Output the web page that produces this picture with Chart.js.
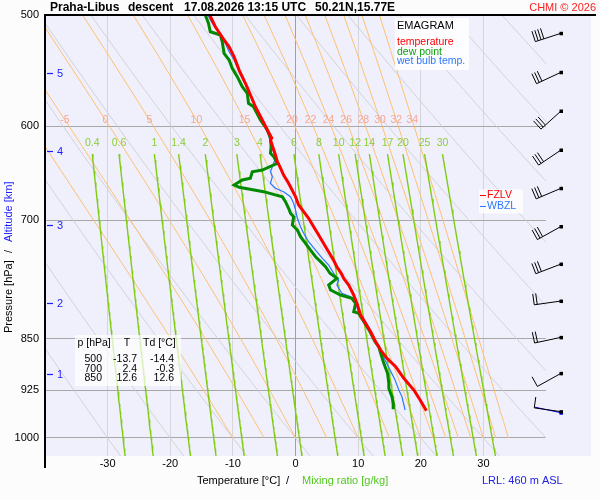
<!DOCTYPE html>
<html><head><meta charset="utf-8">
<script src="https://cdn.jsdelivr.net/npm/chart.js@4.4.1/dist/chart.umd.min.js"></script>
<style>html,body{margin:0;padding:0;background:#fcfcfc;}canvas{display:block;}</style>
</head><body>
<canvas id="c" width="600" height="500"></canvas>
<script>
// ---------- axes / reference lines ----------
const yTicks = [500, 600, 700, 850, 925, 1000];
const xTicks = [-30, -20, -10, 0, 10, 20, 30];
const dryAdiabatT1000 = [-30, -20, -10, 0, 10, 20, 30, 40, 50, 60, 70, 80, 90, 100, 110];
const moistThetaW = [-10, -5, 0, 5, 10, 15, 20, 22, 24, 26, 28, 30, 32, 34];
const moistLabels = [-5, 0, 5, 10, 15, 20, 22, 24, 26, 28, 30, 32, 34];
const mixingRatios = [0.4, 0.6, 1, 1.4, 2, 3, 4, 6, 8, 10, 12, 14, 17, 20, 25, 30];

// ---------- sounding profiles ----------
const tempP = [500, 509.7, 520.9, 526.7, 535.4, 547.2, 559.2, 570, 581.1, 593.9, 603.7, 611.7, 613.6, 628.9, 635.8, 641.1, 649.9, 658.8, 673.4, 682.6, 690.1, 697.6, 707.4, 717.1, 731, 746, 755.3, 763.5, 770, 778.3, 791.2, 804.3, 817.6, 828.8, 840.3, 854.1, 865.8, 877.7, 889.8, 906.9, 924.5, 939.7, 956.3];
const tempT = [-13.7, -12.8, -11.4, -10.6, -9.8, -9.0, -8.0, -7.2, -6.4, -5.3, -4.5, -3.8, -4.0, -3.2, -2.9, -2.5, -1.9, -1.1, 0.0, 0.5, 1.3, 2.1, 2.9, 3.7, 4.8, 6.0, 6.6, 7.3, 7.7, 8.5, 9.3, 9.9, 10.4, 11.2, 12.0, 12.8, 13.6, 14.6, 16.0, 17.3, 18.9, 19.9, 20.9];

const dewP = [500, 506.8, 513.9, 516.7, 522.4, 532.4, 538.3, 545.6, 553.2, 562.4, 568.5, 577.9, 581.1, 593.9, 603.7, 612, 620.4, 627.1, 630.6, 637.5, 644.6, 646.4, 653.4, 655.2, 660.6, 663.1, 667.9, 673.4, 678.9, 686.3, 691.9, 695.8, 705.4, 711.2, 719.1, 726.9, 735, 743, 749.1, 755.3, 763.5, 769.8, 778.3, 784.7, 791.2, 795.5, 802, 813.2, 815.3, 819.9, 828.8, 840.3, 854.1, 861.2, 870.5, 884.9, 899.5, 914.4, 921.9, 929.5, 934.7, 944.8, 954.2];
const dewT = [-14.4, -13.9, -13.6, -12.0, -11.7, -11.4, -10.6, -10.1, -9.3, -8.5, -7.7, -7.5, -6.7, -5.6, -4.5, -4.0, -3.9, -4.0, -3.5, -2.9, -5.3, -6.9, -7.2, -8.5, -9.8, -9.0, -5.1, -2.1, -1.6, -1.1, -0.8, -0.3, -0.5, 0.3, 0.8, 1.6, 2.4, 3.2, 4.0, 4.8, 5.5, 6.6, 5.3, 5.6, 7.2, 9.0, 9.6, 9.3, 10.1, 10.4, 11.1, 11.9, 12.7, 13.3, 13.6, 14.1, 14.7, 14.9, 14.9, 15.2, 15.4, 15.6, 15.6];

const wetP = [500, 506.8, 515.2, 523.7, 531, 538.3, 548.7, 557.8, 567, 577.9, 590.7, 608.7, 632.3, 641.1, 646.4, 651.7, 658.8, 664.2, 667.9, 673.4, 680.7, 688.2, 697.6, 707.4, 715.1, 725, 735, 745, 753.2, 763.5, 771.9, 778.3, 789, 793.4, 806.5, 815.3, 828.8, 840.3, 854.1, 865.8, 880.1, 894.6, 909.4, 924.5, 934.7, 955.2];
const wetT = [-14.0, -13.3, -12.2, -11.2, -10.6, -9.8, -9.0, -8.2, -7.4, -6.6, -5.6, -4.3, -3.2, -3.7, -4.0, -3.7, -4.0, -3.2, -1.9, -0.8, -0.3, 0.0, 0.3, 0.8, 1.3, 2.1, 3.2, 4.3, 5.3, 6.1, 6.9, 6.6, 7.4, 8.8, 9.8, 10.1, 11.1, 11.9, 12.7, 13.6, 14.3, 15.1, 15.9, 16.5, 17.0, 17.5];

// ---------- altitude marks ----------
const altKm = [1, 2, 3, 4, 5];
const altP = [899.8, 801, 705.5, 625.1, 550.3];

// ---------- winds ----------
const windP = [515.2, 549.2, 585.2, 623.8, 664.2, 707.1, 752.0, 799.0, 848.0, 899.5, 957.8];
const windDir = [252, 245, 228, 236, 247, 241, 249, 262, 258, 241, 278];
const windKt = [40, 30, 30, 30, 30, 30, 30, 20, 20, 10, 10];
const sfcWindP = [959.5];
const sfcWindDir = [282];

// ---------- table ----------
const tableP = [500, 700, 850];
const tableT = [-13.7, 2.4, 12.6];
const tableTd = [-14.4, -0.3, 12.6];

const fzlvP = 672, wbzlP = 684;

const FONT = '"Liberation Sans", Arial, sans-serif';

// ---------- thermodynamics for the diagram background ----------
function dryAdiabat(t1000) {
  const pts = [];
  for (let p = 1030; p >= 500; p -= 5) pts.push({x: (t1000 + 273.15) * Math.pow(p / 1000, 0.2857) - 273.15, y: p});
  return pts;
}
function es(tc) { return 6.112 * Math.exp(17.67 * tc / (tc + 243.5)); }
function moistLapse(p, T) {
  const e = es(T - 273.15), rs = 0.622 * e / (p - e);
  return (287.04 * T + 2.501e6 * rs) / (p * (1005.7 + 2.501e6 * 2.501e6 * rs * 0.622 / (287.04 * T * T)));
}
function moistAdiabat(tw) {
  let T = tw + 273.15, p = 1000;
  const pts = [{x: tw, y: 1000}], dp = -5;
  while (p > 500) {
    const k1 = moistLapse(p, T);
    const k2 = moistLapse(p + dp / 2, T + k1 * dp / 2);
    T += k2 * dp; p += dp;
    pts.push({x: T - 273.15, y: p});
  }
  return pts;
}
function mixT(w, p) { const e = w * p / (622 + w); const l = Math.log(e / 6.112); return 243.5 * l / (17.67 - l); }
function mixLine(w) { const pts = []; for (let p = 628; p <= 1030; p += 6) pts.push({x: mixT(w, p), y: p}); pts.push({x: mixT(w, 1030), y: 1030}); return pts; }
function xAtP(pts, p) {
  for (let i = 0; i < pts.length - 1; i++) {
    const a = pts[i], b = pts[i + 1];
    if ((a.y - p) * (b.y - p) <= 0) return a.x + (b.x - a.x) * (p - a.y) / (b.y - a.y);
  }
  return pts[pts.length - 1].x;
}
const zip = (P, T) => P.map((p, i) => ({x: T[i], y: p}));

const datasets = [
  {data: zip(tempP, tempT), borderColor: '#ff0000', borderWidth: 3, order: 0},
  {data: zip(dewP, dewT), borderColor: '#008a00', borderWidth: 3, order: 1},
  {data: zip(wetP, wetT), borderColor: '#2a78ff', borderWidth: 1.2, order: 2},
];
mixingRatios.forEach(w => datasets.push({data: mixLine(w), borderColor: '#80cc10', borderWidth: 1.4, order: 10}));
moistThetaW.forEach(t => datasets.push({data: moistAdiabat(t), borderColor: '#ffc070', borderWidth: 1, order: 11}));
dryAdiabatT1000.forEach(t => datasets.push({data: dryAdiabat(t), borderColor: '#d2d2d8', borderWidth: 1, order: 12}));
datasets.forEach(d => { d.showLine = true; d.pointRadius = 0; d.fill = false; d.tension = 0; });

function drawBarb(ctx, x0, y0, dir, spd, color, dotColor) {
  const r = dir * Math.PI / 180, ux = Math.sin(r), uy = -Math.cos(r), L = 27;
  const tx = x0 + ux * L, ty = y0 + uy * L, px = -uy, py = ux;
  ctx.strokeStyle = color; ctx.lineWidth = 1;
  ctx.beginPath(); ctx.moveTo(x0, y0); ctx.lineTo(tx, ty); ctx.stroke();
  let s = L, rest = Math.round(spd / 5) * 5;
  while (rest >= 10) {
    const bx = x0 + ux * s, by = y0 + uy * s;
    ctx.beginPath(); ctx.moveTo(bx, by); ctx.lineTo(bx + px * 11, by + py * 11); ctx.stroke();
    s -= 3; rest -= 10;
  }
  if (rest >= 5) {
    const bx = x0 + ux * s, by = y0 + uy * s;
    ctx.beginPath(); ctx.moveTo(bx, by); ctx.lineTo(bx + px * 6, by + py * 6); ctx.stroke();
  }
  ctx.fillStyle = dotColor || color; ctx.fillRect(x0 - 1.5, y0 - 1.5, 3.5, 3.5);
}

const decor = {
  id: 'decor',
  beforeDraw(chart) {
    const {ctx, chartArea: a} = chart;
    ctx.save(); ctx.fillStyle = '#f0f0fc';
    ctx.fillRect(a.left, a.top, (a.right - a.left) + 45, a.bottom - a.top);
    ctx.restore();
  },
  afterDatasetsDraw(chart) {
    const {ctx, chartArea: a, scales: {x, y}} = chart;
    ctx.save();
    ctx.textAlign = 'center'; ctx.textBaseline = 'middle';
    ctx.font = '10.5px ' + FONT;
    ctx.fillStyle = '#f5a696';
    moistLabels.forEach(tw => {
      const xv = xAtP(moistAdiabat(tw), 594);
      ctx.fillText(String(tw), x.getPixelForValue(xv), y.getPixelForValue(594));
    });
    ctx.fillStyle = '#8ccc3a';
    mixingRatios.forEach(w => ctx.fillText(String(w), x.getPixelForValue(mixT(w, 628)), y.getPixelForValue(617)));

    // altitude marks
    ctx.fillStyle = '#1c1cff'; ctx.strokeStyle = '#1c1cff'; ctx.lineWidth = 1.2;
    ctx.textAlign = 'left'; ctx.font = '11px ' + FONT;
    altKm.forEach((k, i) => {
      const py = Math.round(y.getPixelForValue(altP[i])) + 0.5;
      ctx.beginPath(); ctx.moveTo(a.left + 2, py); ctx.lineTo(a.left + 8, py); ctx.stroke();
      ctx.fillText(String(k), a.left + 12, py);
    });

    // EMAGRAM legend box
    ctx.fillStyle = 'rgba(255,255,255,0.85)';
    ctx.fillRect(395, a.top + 3, 74, 52);
    ctx.textAlign = 'left';
    ctx.font = '11px ' + FONT; ctx.fillStyle = '#000'; ctx.fillText('EMAGRAM', 397, 26);
    ctx.font = '10.5px ' + FONT;
    ctx.fillStyle = '#ff0000'; ctx.fillText('temperature', 397, 42.5);
    ctx.fillStyle = '#10a010'; ctx.fillText('dew point', 397, 52);
    ctx.fillStyle = '#2a78ff'; ctx.fillText('wet bulb temp.', 397, 61.5);

    // FZLV / WBZL
    const fy = y.getPixelForValue(fzlvP), wy = y.getPixelForValue(wbzlP);
    ctx.fillStyle = 'rgba(255,255,255,0.8)';
    ctx.fillRect(479, fy - 6, 44, 24);
    ctx.lineWidth = 1;
    ctx.strokeStyle = '#ff0000'; ctx.beginPath(); ctx.moveTo(480, Math.round(fy) + 0.5); ctx.lineTo(486, Math.round(fy) + 0.5); ctx.stroke();
    ctx.fillStyle = '#ff0000'; ctx.fillText('FZLV', 487, fy);
    ctx.strokeStyle = '#2a78ff'; ctx.beginPath(); ctx.moveTo(480, Math.round(wy) + 0.5); ctx.lineTo(486, Math.round(wy) + 0.5); ctx.stroke();
    ctx.fillStyle = '#2a78ff'; ctx.fillText('WBZL', 487, wy);

    // table box
    ctx.fillStyle = 'rgba(255,255,255,0.7)';
    ctx.fillRect(75, 335, 106, 51);
    ctx.fillStyle = '#000'; ctx.font = '10.5px ' + FONT;
    ctx.textAlign = 'left'; ctx.fillText('p [hPa]', 77.5, 343.5);
    ctx.textAlign = 'center'; ctx.fillText('T', 127, 343.5);
    ctx.textAlign = 'left'; ctx.fillText('Td [°C]', 143, 343.5);
    ctx.textAlign = 'right';
    tableP.forEach((p, i) => {
      const ty = 359 + i * 9.7;
      ctx.fillText(String(p), 102, ty);
      ctx.fillText(tableT[i].toFixed(1), 137, ty);
      ctx.fillText(tableTd[i].toFixed(1), 174, ty);
    });

    // wind barbs
    const bx = a.right + 15;
    sfcWindP.forEach((p, i) => drawBarb(ctx, bx, y.getPixelForValue(p), sfcWindDir[i], 0, '#0000ff'));
    windP.forEach((p, i) => drawBarb(ctx, bx, y.getPixelForValue(p), windDir[i], windKt[i], '#000'));
    ctx.restore();
  },
  afterDraw(chart) {
    const {ctx, chartArea: a} = chart;
    ctx.save();
    ctx.strokeStyle = '#000'; ctx.lineWidth = 2;
    ctx.beginPath(); ctx.moveTo(a.left - 1, a.top); ctx.lineTo(a.right + 50, a.top); ctx.stroke();
    ctx.beginPath(); ctx.moveTo(a.left, a.top); ctx.lineTo(a.left, a.bottom + 12); ctx.stroke();

    // title
    ctx.textBaseline = 'middle'; ctx.textAlign = 'left';
    ctx.font = 'bold 12px ' + FONT; ctx.fillStyle = '#000';
    ctx.fillText('Praha-Libus', 50, 7.5);
    ctx.fillText('descent', 128, 7.5);
    ctx.fillText('17.08.2026 13:15 UTC', 184, 7.5);
    ctx.fillText('50.21N,15.77E', 315, 7.5);
    ctx.font = '11px ' + FONT; ctx.fillStyle = '#ff2020'; ctx.textAlign = 'right';
    ctx.fillText('CHMI © 2026', 596, 7.5);

    // bottom titles
    ctx.textAlign = 'left'; ctx.font = '11px ' + FONT;
    ctx.fillStyle = '#000'; ctx.fillText('Temperature [°C]', 197, 480.5);
    ctx.fillText('/', 286, 480.5);
    ctx.fillStyle = '#50c820'; ctx.fillText('Mixing ratio [g/kg]', 302, 480.5);
    ctx.fillStyle = '#2020e8'; ctx.fillText('LRL: 460 m ASL', 482, 481);

    // left title (rotated)
    ctx.translate(9, 0); ctx.rotate(-Math.PI / 2);
    ctx.fillStyle = '#000'; ctx.fillText('Pressure [hPa]', -333, 0);
    ctx.fillText('/', -253, 0);
    ctx.fillStyle = '#1c1cff'; ctx.fillText('Altitude [km]', -242, 0);
    ctx.restore();
  }
};

new Chart(document.getElementById('c'), {
  type: 'scatter',
  data: {datasets},
  options: {
    responsive: false, animation: false, devicePixelRatio: 1,
    layout: {padding: {left: 0, top: 15, right: 54, bottom: 0}},
    plugins: {legend: {display: false}, tooltip: {enabled: false}},
    scales: {
      x: {
        type: 'linear', min: -40, max: 40, bounds: 'data',
        afterBuildTicks: s => { s.ticks = xTicks.map(v => ({value: v})); },
        afterFit: s => { s.height = 44; },
        ticks: {autoSkip: false, maxRotation: 0, padding: 1, color: '#000', font: {family: FONT, size: 11}, callback: v => String(v)},
        grid: {drawTicks: false, lineWidth: 1, color: c => (c.tick && c.tick.value === 0) ? '#a0a0a0' : '#d6d6da'},
        border: {display: false}
      },
      y: {
        type: 'logarithmic', min: 500, max: 1030, reverse: true, bounds: 'data',
        afterBuildTicks: s => { s.ticks = yTicks.map(v => ({value: v})); },
        afterFit: s => { s.width = 45; },
        ticks: {autoSkip: false, padding: 6, color: '#000', font: {family: FONT, size: 11}, callback: v => String(v)},
        grid: {drawTicks: false, lineWidth: 1, color: c => (c.tick && c.tick.value === 500) ? 'rgba(0,0,0,0)' : '#a8a8a8'},
        border: {display: false}
      }
    }
  },
  plugins: [decor]
});
</script>
</body></html>
